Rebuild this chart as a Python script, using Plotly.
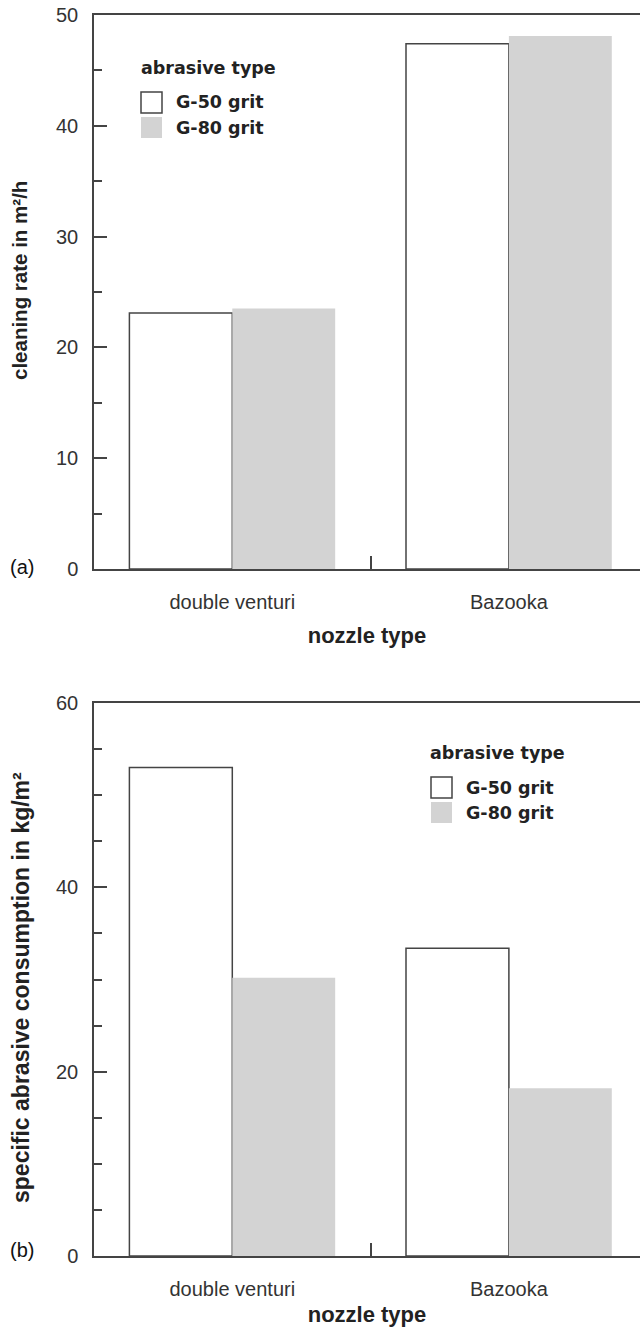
import plotly.graph_objects as go

# Nozzle categories and abrasive grades
nozzles = ["double venturi", "Bazooka"]
grit_names = ["G-50 grit", "G-80 grit"]

# (a) cleaning rate, m²/h
rate_g50 = [23.1, 47.4]
rate_g80 = [23.5, 48.1]

# (b) specific abrasive consumption, kg/m²
consumption_g50 = [53.0, 33.4]
consumption_g80 = [30.2, 18.2]

y_ticks_a = [0, 10, 20, 30, 40, 50]
y_ticks_b = [0, 20, 40, 60]

W, H = 640, 1339
ML, MR, MT, MB = 94, 0, 15, 83
AXIS = "#444444"
GREY = "#d3d3d3"
SANS = "Liberation Sans, Arial, sans-serif"
TICK_FONT = dict(family=SANS, size=20, color="#333333")
XTITLE_FONT = dict(family=SANS, size=22, color="#222222", weight="bold")
LEG_FONT = dict(family="DejaVu Sans, sans-serif", size=17.5, color="#222222", weight="bold")


def px(x):
    """pixel column -> paper x"""
    return (x - ML) / (W - ML - MR)


def py(y):
    """pixel row -> paper y"""
    return (H - MB - y) / (H - MT - MB)


fig = go.Figure()

panels = [
    ("x", "y", rate_g50, rate_g80),
    ("x2", "y2", consumption_g50, consumption_g80),
]
for xa, ya, g50, g80 in panels:
    fig.add_trace(go.Bar(
        x=nozzles, y=g50, name=grit_names[0], xaxis=xa, yaxis=ya, showlegend=False,
        marker=dict(color="white", line=dict(color=AXIS, width=1.5)),
    ))
    fig.add_trace(go.Bar(
        x=nozzles, y=g80, name=grit_names[1], xaxis=xa, yaxis=ya, showlegend=False,
        marker=dict(color=GREY, line=dict(color=GREY, width=0)),
    ))

common_x = dict(
    type="category", range=[-0.5, 1.474], showline=True, linecolor=AXIS, linewidth=1.5,
    mirror=True, ticks="inside", tickson="boundaries", ticklen=13, tickwidth=1.5,
    tickcolor=AXIS, tickfont=TICK_FONT, showgrid=False, zeroline=False,
    ticklabelstandoff=14,
)
common_y = dict(
    showline=True, linecolor=AXIS, linewidth=1.5, ticks="inside", ticklen=13,
    tickwidth=1.5, tickcolor=AXIS, tickfont=TICK_FONT, showgrid=False, zeroline=False,
    ticklabelstandoff=10,
    minor=dict(ticks="inside", ticklen=8, tickwidth=1.5, tickcolor=AXIS, dtick=5, showgrid=False),
)

fig.update_layout(
    width=W, height=H,
    margin=dict(l=ML, r=MR, t=MT, b=MB),
    paper_bgcolor="white", plot_bgcolor="white",
    barmode="group", bargap=0.256, bargroupgap=0,
    showlegend=False,
    xaxis=dict(common_x, anchor="y",
               title=dict(text="nozzle type", font=XTITLE_FONT, standoff=16)),
    yaxis=dict(common_y, domain=[py(569), 1.0], range=[0, 50], tickvals=y_ticks_a, anchor="x"),
    xaxis2=dict(common_x, anchor="y2",
                title=dict(text="nozzle type", font=XTITLE_FONT, standoff=8)),
    yaxis2=dict(common_y, domain=[0.0, py(703)], range=[0, 60], tickvals=y_ticks_b, anchor="x2"),
)

# vertical axis titles
for text, xc, yc, size in (
    ("cleaning rate in m²/h", 20, 281, 20.5),
    ("specific abrasive consumption in kg/m²", 21, 988, 23),
):
    fig.add_annotation(
        text=text, xref="paper", yref="paper", x=px(xc), y=py(yc),
        xanchor="center", yanchor="middle", textangle=-90, showarrow=False,
        font=dict(family=SANS, size=size, color="#222222", weight="bold"),
    )

# panel tags
for label, yc in (("(a)", 567), ("(b)", 1250)):
    fig.add_annotation(
        text=label, xref="paper", yref="paper", x=px(8), y=py(yc),
        xanchor="left", yanchor="middle", showarrow=False,
        font=dict(family=SANS, size=20, color="#111111"),
    )

# legend boxes for each panel: (title left, title centre row, swatch left, first swatch top)
legend_spots = [(139, 68, 141, 92), (428, 753, 431, 777)]
swatch_styles = [
    dict(fillcolor="white", line=dict(color=AXIS, width=1.5)),
    dict(fillcolor=GREY, line=dict(width=0)),
]
for tx, ty, sx, sy in legend_spots:
    fig.add_annotation(
        text="abrasive type", xref="paper", yref="paper", x=px(tx), y=py(ty),
        xanchor="left", yanchor="middle", showarrow=False, font=LEG_FONT,
    )
    for i, name in enumerate(grit_names):
        top = sy + 25 * i
        fig.add_shape(
            type="rect", xref="paper", yref="paper",
            x0=px(sx), x1=px(sx + 21), y0=py(top + 21), y1=py(top),
            **swatch_styles[i],
        )
        fig.add_annotation(
            text=name, xref="paper", yref="paper", x=px(sx + 33), y=py(top + 10.5),
            xanchor="left", yanchor="middle", showarrow=False, font=LEG_FONT,
        )

fig.write_html("out.html")
